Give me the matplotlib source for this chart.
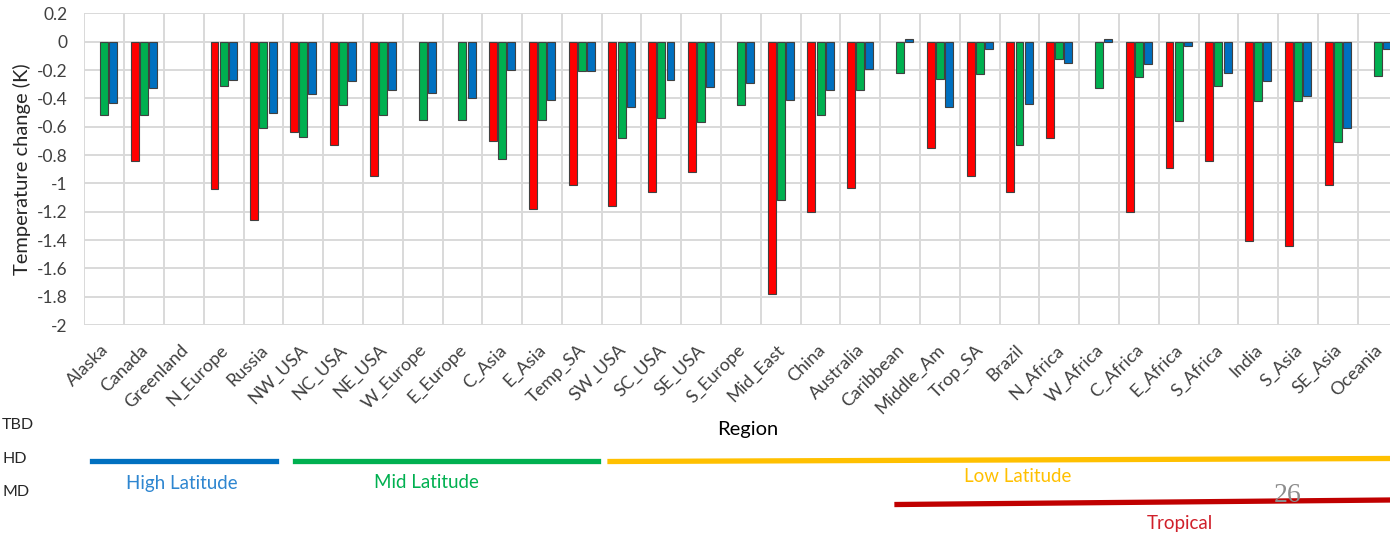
import matplotlib
matplotlib.use("Agg")
import matplotlib.pyplot as plt
import matplotlib.transforms as mtransforms
from matplotlib.lines import Line2D
import numpy as np

plt.rcParams['font.family'] = ['Lato', 'DejaVu Sans']

regions = ["Alaska", "Canada", "Greenland", "N_Europe", "Russia", "NW_USA", "NC_USA",
           "NE_USA", "W_Europe", "E_Europe", "C_Asia", "E_Asia", "Temp_SA", "SW_USA",
           "SC_USA", "SE_USA", "S_Europe", "Mid_East", "China", "Australia", "Caribbean",
           "Middle_Am", "Trop_SA", "Brazil", "N_Africa", "W_Africa", "C_Africa",
           "E_Africa", "S_Africa", "India", "S_Asia", "SE_Asia", "Oceania"]

# nan = no bar drawn for that region
nan = np.nan
red_vals = [nan, -0.84, nan, -1.04, -1.26, -0.64, -0.73, -0.95, nan, nan, -0.70, -1.18,
            -1.01, -1.16, -1.06, -0.92, nan, -1.78, -1.20, -1.03, nan, -0.75, -0.95,
            -1.06, -0.68, nan, -1.20, -0.89, -0.84, -1.41, -1.44, -1.01, nan]
green_vals = [-0.52, -0.52, nan, -0.31, -0.61, -0.67, -0.45, -0.52, -0.55, -0.55, -0.83,
              -0.55, -0.21, -0.68, -0.54, -0.57, -0.45, -1.12, -0.52, -0.34, -0.22, -0.26,
              -0.23, -0.73, -0.12, -0.33, -0.25, -0.56, -0.31, -0.42, -0.42, -0.71, -0.24]
blue_vals = [-0.43, -0.33, nan, -0.27, -0.50, -0.37, -0.28, -0.34, -0.36, -0.40, -0.20,
             -0.41, -0.21, -0.46, -0.27, -0.32, -0.29, -0.41, -0.34, -0.19, 0.02, -0.46,
             -0.05, -0.44, -0.15, 0.02, -0.16, -0.03, -0.22, -0.28, -0.38, -0.61, -0.05]

yticks = [0.2, 0, -0.2, -0.4, -0.6, -0.8, -1, -1.2, -1.4, -1.6, -1.8, -2]

fig = plt.figure(figsize=(13.9, 5.33), dpi=100)
ax = fig.add_axes([0.0607, 0.3902, 0.9447, 0.5847])

x = np.arange(len(regions))
w = 0.2
off = 0.23
ax.bar(x - off, red_vals, w, color="#FF0000", edgecolor="#404040", linewidth=0.8, zorder=3)
ax.bar(x, green_vals, w, color="#00B050", edgecolor="#404040", linewidth=0.8, zorder=3)
ax.bar(x + off, blue_vals, w, color="#0070C0", edgecolor="#404040", linewidth=0.8, zorder=3)

ax.set_xlim(-0.5, len(regions) - 0.5)
ax.set_ylim(-2, 0.2)
ax.set_yticks(yticks)
ax.set_yticklabels([("%g" % t) for t in yticks], fontsize=12.5, color="#404040")
ax.set_xticks(x)
ax.set_xticklabels(regions, rotation=45, ha="right", va="top",
                   rotation_mode="anchor", fontsize=13, color="#404040")
ax.set_xticks(np.arange(-0.5, len(regions)), minor=True)
ax.tick_params(which="both", length=0)
ax.tick_params(axis="y", pad=12)
ax.grid(True, which="minor", axis="x", color="#D9D9D9", linewidth=1.4, zorder=0)
ax.grid(True, which="major", axis="y", color="#D9D9D9", linewidth=1.4, zorder=0)
for s in ax.spines.values():
    s.set_visible(False)

shift = mtransforms.ScaledTranslation(-4 / 100, -12 / 100, fig.dpi_scale_trans)
for lbl in ax.get_xticklabels():
    lbl.set_transform(lbl.get_transform() + shift)

ax.set_ylabel("Temperature change (K)", fontsize=14.5, color="#262626", labelpad=4)

# annotation area below the chart (figure pixel coords, y from top)
W, H = 1390.0, 533.0
def fx(px):
    return px / W
def fy(py):
    return 1 - py / H

fig.text(fx(2), fy(425), "TBD", fontsize=11.5, va="center", color="#262626")
fig.text(fx(2), fy(459), "HD", fontsize=11.5, va="center", color="#262626")
fig.text(fx(2), fy(492), "MD", fontsize=11.5, va="center", color="#262626")
fig.text(fx(748), fy(430), "Region", fontsize=14.5, ha="center", va="center", color="#000000")

fig.add_artist(Line2D([fx(92), fx(276)], [fy(461), fy(461)], color="#0070C0", lw=3.8))
fig.add_artist(Line2D([fx(295), fx(598)], [fy(461), fy(461)], color="#00B050", lw=3.8))
fig.add_artist(Line2D([fx(610), fx(1390)], [fy(461.5), fy(458.5)], color="#FFC000", lw=3.8))
fig.add_artist(Line2D([fx(897), fx(1390)], [fy(504.5), fy(500)], color="#C00000", lw=3.8))

fig.text(fx(182), fy(483), "High Latitude", fontsize=13.5, ha="center", va="center", color="#2E86D0")
fig.text(fx(426), fy(482), "Mid Latitude", fontsize=13.5, ha="center", va="center", color="#00B050")
fig.text(fx(1018), fy(477), "Low Latitude", fontsize=13.5, ha="center", va="center", color="#FFC000")
fig.text(fx(1180), fy(523), "Tropical", fontsize=13.5, ha="center", va="center", color="#D0202A")
fig.text(fx(1288), fy(495), "26", fontsize=20, ha="center", va="center",
         color="#8C8C8C", family="Liberation Serif")

fig.savefig("out.png", dpi=100)
